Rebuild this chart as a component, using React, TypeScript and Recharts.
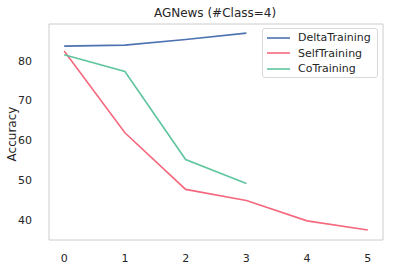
import React from 'react';
import { LineChart, Line, XAxis, YAxis, ReferenceArea } from 'recharts';

const steps = [0, 1, 2, 3, 4, 5];
const deltaTraining = [83.65, 83.9, 85.3, 86.9, null, null];
const selfTraining = [82.4, 61.9, 47.7, 44.9, 39.8, 37.5];
const coTraining = [81.5, 77.3, 55.2, 49.2, null, null];
const xTicks = [0, 1, 2, 3, 4, 5];
const yTicks = [40, 50, 60, 70, 80];

const data = steps.map((s, i) => ({
  step: s,
  DeltaTraining: deltaTraining[i],
  SelfTraining: selfTraining[i],
  CoTraining: coTraining[i],
}));

const series = [
  { key: 'DeltaTraining', color: '#4c72b0' },
  { key: 'SelfTraining', color: '#f5687e' },
  { key: 'CoTraining', color: '#5ec59d' },
];

const FONT = 'DejaVu Sans, sans-serif';
const TEXT = '#262626';
const X_DOMAIN: [number, number] = [-0.25, 5.25];
const Y_DOMAIN: [number, number] = [35, 89.2];

const LegendBox = () => (
  <div
    style={{
      position: 'absolute',
      left: 262,
      top: 28,
      width: 116,
      height: 50,
      border: '1px solid #d9d9d9',
      borderRadius: 3,
      background: '#fff',
      fontFamily: FONT,
      fontSize: 11,
      color: TEXT,
      boxSizing: 'border-box',
      paddingTop: 1,
    }}
  >
    {series.map((s) => (
      <div key={s.key} style={{ display: 'flex', alignItems: 'center', height: 15.5, paddingLeft: 4 }}>
        <svg width={23} height={4} style={{ marginRight: 8, flexShrink: 0 }}>
          <line x1={0} y1={2} x2={23} y2={2} stroke={s.color} strokeWidth={1.6} />
        </svg>
        <span style={{ whiteSpace: 'nowrap' }}>{s.key}</span>
      </div>
    ))}
  </div>
);

export default function App() {
  return (
    <div style={{ position: 'fixed', left: 0, top: 0, width: 395, height: 267, background: '#fff' }}>
      <LineChart width={395} height={267} data={data} margin={{ top: 24, right: 12, left: 0, bottom: 0 }}>
        <text x={215} y={17} textAnchor="middle" fontFamily={FONT} fontSize={12} fill={TEXT}>
          AGNews (#Class=4)
        </text>
        <text
          x={16}
          y={134}
          textAnchor="middle"
          fontFamily={FONT}
          fontSize={12}
          fill={TEXT}
          transform="rotate(-90 16 134)"
        >
          Accuracy
        </text>
        <XAxis
          dataKey="step"
          type="number"
          domain={X_DOMAIN}
          ticks={xTicks}
          height={27}
          tickLine={false}
          axisLine={false}
          tick={{ fontFamily: FONT, fontSize: 11, fill: TEXT }}
          tickMargin={8}
          allowDataOverflow
        />
        <YAxis
          type="number"
          domain={Y_DOMAIN}
          ticks={yTicks}
          width={49}
          tickLine={false}
          axisLine={false}
          tick={{ fontFamily: FONT, fontSize: 11, fill: TEXT }}
          tickMargin={11}
          allowDataOverflow
        />
        <ReferenceArea
          x1={X_DOMAIN[0]}
          x2={X_DOMAIN[1]}
          y1={Y_DOMAIN[0]}
          y2={Y_DOMAIN[1]}
          fill="none"
          fillOpacity={0}
          stroke="#cccccc"
          strokeWidth={1}
          ifOverflow="visible"
        />
        {series.map((s) => (
          <Line
            key={s.key}
            dataKey={s.key}
            stroke={s.color}
            strokeWidth={1.6}
            dot={false}
            activeDot={false}
            isAnimationActive={false}
            connectNulls={false}
          />
        ))}
      </LineChart>
      <LegendBox />
    </div>
  );
}
